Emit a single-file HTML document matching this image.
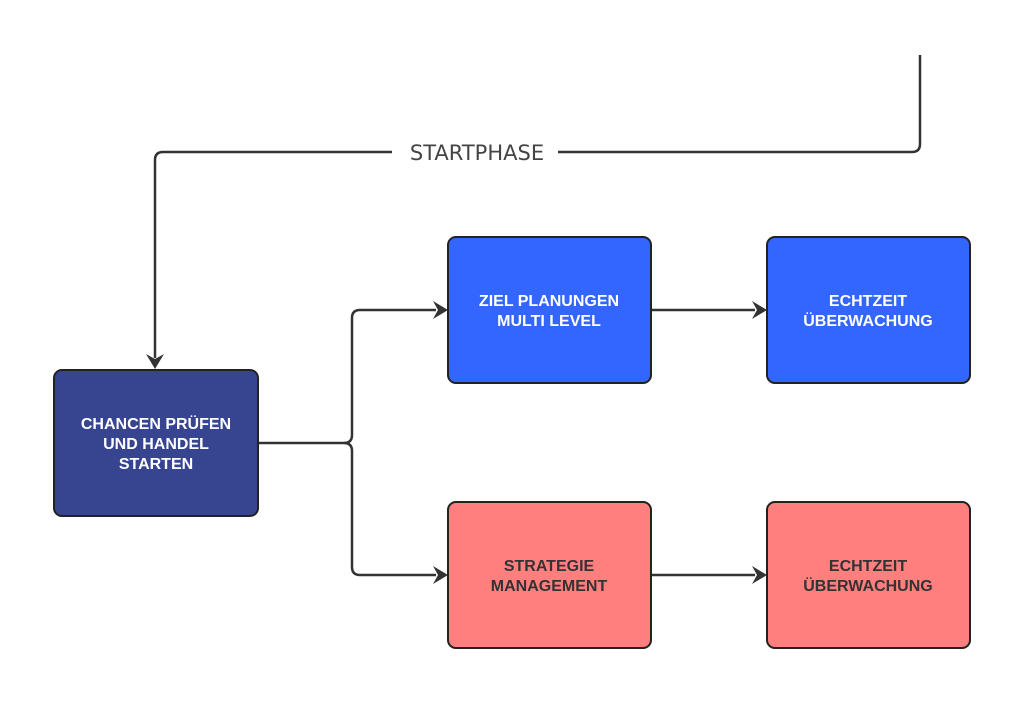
<!DOCTYPE html>
<html><head><meta charset="utf-8"><style>
body{margin:0;background:#fff;}
</style></head><body>
<svg width="1024" height="703" viewBox="0 0 1024 703" xmlns="http://www.w3.org/2000/svg" style="display:block">
<g fill="none" stroke="#333" stroke-width="2.5">
<path d="M920,55 V144 Q920,152 912,152 H558"/>
<path d="M392,152 H163 Q155,152 155,160 V358"/>
<path d="M258,443 H344 Q352,443 352,435 V318 Q352,310 360,310 H436"/>
<path d="M344,443 Q352,443 352,451 V567 Q352,575 360,575 H436"/>
<path d="M651,310 H755"/>
<path d="M651,575 H755"/>
</g>
<g fill="#333">
<path d="M146,354 L155,369 L164,354 L155,359 Z"/>
<path d="M433,301 L448,310 L433,319 L438,310 Z"/>
<path d="M433,566 L448,575 L433,584 L438,575 Z"/>
<path d="M752,301 L767,310 L752,319 L757,310 Z"/>
<path d="M752,566 L767,575 L752,584 L757,575 Z"/>
</g>
<text x="477" y="160" text-anchor="middle" font-family="DejaVu Sans, sans-serif" font-size="21" fill="#444">STARTPHASE</text>
<g stroke="#222" stroke-width="2">
<rect x="54" y="370" width="204" height="146" rx="8" fill="#374591"/>
<rect x="448" y="237" width="203" height="146" rx="8" fill="#3366ff"/>
<rect x="767" y="237" width="203" height="146" rx="8" fill="#3366ff"/>
<rect x="448" y="502" width="203" height="146" rx="8" fill="#ff7f7f"/>
<rect x="767" y="502" width="203" height="146" rx="8" fill="#ff7f7f"/>
</g>
<g font-family="Liberation Sans, sans-serif" font-size="16" font-weight="bold" text-anchor="middle">
<g fill="#fff">
<text x="156" y="429">CHANCEN PRÜFEN</text><text x="156" y="449">UND HANDEL</text><text x="156" y="469">STARTEN</text>
<text x="549" y="306">ZIEL PLANUNGEN</text><text x="549" y="326">MULTI LEVEL</text>
<text x="868" y="306">ECHTZEIT</text><text x="868" y="326">ÜBERWACHUNG</text>
</g>
<g fill="#333">
<text x="549" y="571">STRATEGIE</text><text x="549" y="591">MANAGEMENT</text>
<text x="868" y="571">ECHTZEIT</text><text x="868" y="591">ÜBERWACHUNG</text>
</g>
</g>
</svg>
</body></html>
